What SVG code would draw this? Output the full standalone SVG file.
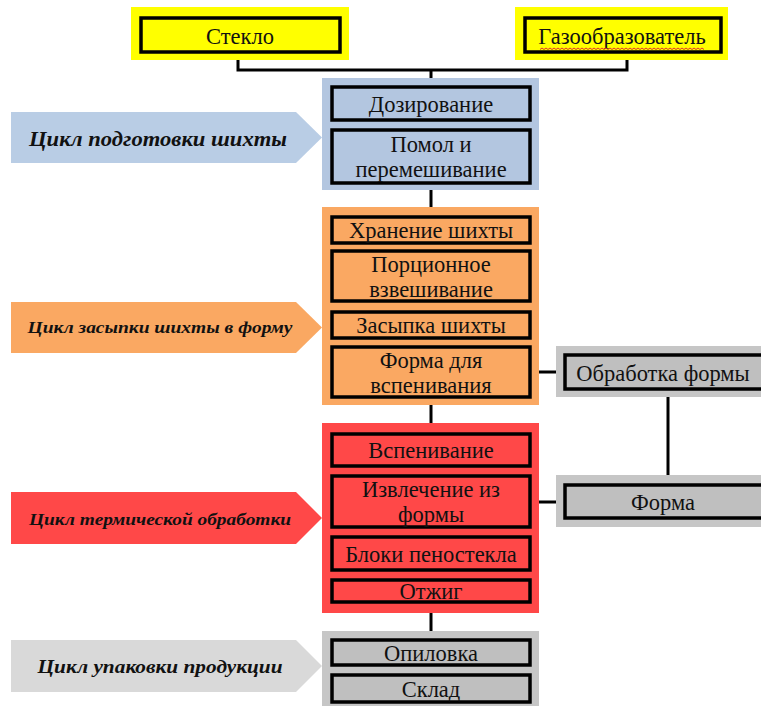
<svg xmlns="http://www.w3.org/2000/svg" width="761" height="706" viewBox="0 0 761 706">
<style>
.box{stroke:#000;stroke-width:3.5}
.t{font-family:"Liberation Serif","Times New Roman",serif;font-size:22.5px;fill:#111;text-anchor:middle}
.lbl{font-family:"Liberation Serif","Times New Roman",serif;font-weight:bold;font-style:italic;fill:#111;text-anchor:middle}
.con{stroke:#000;stroke-width:3;fill:none}
</style>
<rect width="761" height="706" fill="#fff"/>
<g id="connectors">
<path class="con" d="M238 52 V70 H627 V52"/>
<path class="con" d="M431 70 V87"/>
<path class="con" d="M431 183 V217"/>
<path class="con" d="M431 397 V434"/>
<path class="con" d="M431 602 V640"/>
<path class="con" d="M530 372 H565"/>
<path class="con" d="M530 502 H565"/>
<path class="con" d="M668 389 V485"/>
</g>
<g id="steklo">
<rect x="131" y="7" width="218" height="53" fill="#FFFF00"/>
<rect class="box" x="141" y="18" width="199" height="34" fill="#FFFF00"/>
<text class="t" x="240" y="44">Стекло</text>
</g>
<g id="gazo">
<rect x="515" y="7" width="213" height="53" fill="#FFFF00"/>
<rect class="box" x="525" y="18" width="196" height="34" fill="#FFFF00"/>
<text class="t" x="622" y="44">Газообразователь</text>
<path d="M540 49.5
l2 -1.5 l2 1.5 l2 -1.5 l2 1.5 l2 -1.5 l2 1.5 l2 -1.5 l2 1.5 l2 -1.5 l2 1.5
l2 -1.5 l2 1.5 l2 -1.5 l2 1.5 l2 -1.5 l2 1.5 l2 -1.5 l2 1.5 l2 -1.5 l2 1.5
l2 -1.5 l2 1.5 l2 -1.5 l2 1.5 l2 -1.5 l2 1.5 l2 -1.5 l2 1.5 l2 -1.5 l2 1.5
l2 -1.5 l2 1.5 l2 -1.5 l2 1.5 l2 -1.5 l2 1.5 l2 -1.5 l2 1.5 l2 -1.5 l2 1.5
l2 -1.5 l2 1.5 l2 -1.5 l2 1.5 l2 -1.5 l2 1.5 l2 -1.5 l2 1.5 l2 -1.5 l2 1.5
l2 -1.5 l2 1.5 l2 -1.5 l2 1.5 l2 -1.5 l2 1.5 l2 -1.5 l2 1.5 l2 -1.5 l2 1.5
l2 -1.5 l2 1.5 l2 -1.5 l2 1.5 l2 -1.5 l2 1.5 l2 -1.5 l2 1.5 l2 -1.5 l2 1.5
l2 -1.5 l2 1.5 l2 -1.5 l2 1.5 l2 -1.5 l2 1.5 l2 -1.5 l2 1.5 l2 -1.5 l2 1.5
l2 -1.5 l2 1.5" fill="none" stroke="#E03030" stroke-width="1"/>
</g>
<g id="cycle1">
<polygon points="11,112 296,112 322,137.5 296,163 11,163" fill="#B9CDE5"/>
<text class="lbl" x="158" y="146" font-size="20" textLength="258" lengthAdjust="spacingAndGlyphs">Цикл подготовки шихты</text>
</g>
<g id="panel1">
<rect x="322" y="78" width="217" height="112" fill="#B3C6E0"/>
<rect class="box" x="332" y="87" width="198" height="33" fill="#B3C6E0"/>
<text class="t" x="431" y="112">Дозирование</text>
<rect class="box" x="332" y="130" width="198" height="53" fill="#B3C6E0"/>
<text class="t" x="431" y="152">Помол и</text>
<text class="t" x="431" y="177">перемешивание</text>
</g>
<g id="cycle2">
<polygon points="11,302 296,302 322,327.5 296,353 11,353" fill="#FAA862"/>
<text class="lbl" x="160" y="333" font-size="16" textLength="265" lengthAdjust="spacingAndGlyphs">Цикл засыпки шихты в форму</text>
</g>
<g id="panel2">
<rect x="322" y="207" width="217" height="198" fill="#FAA862"/>
<rect class="box" x="332" y="217" width="198" height="26" fill="#FAA862"/>
<text class="t" x="431" y="238">Хранение шихты</text>
<rect class="box" x="332" y="251" width="198" height="50" fill="#FAA862"/>
<text class="t" x="431" y="272">Порционное</text>
<text class="t" x="431" y="297">взвешивание</text>
<rect class="box" x="332" y="312" width="198" height="26" fill="#FAA862"/>
<text class="t" x="431" y="333">Засыпка шихты</text>
<rect class="box" x="332" y="347" width="198" height="50" fill="#FAA862"/>
<text class="t" x="431" y="368">Форма для</text>
<text class="t" x="431" y="393">вспенивания</text>
</g>
<g id="obrabotka">
<rect x="556" y="346" width="215" height="51" fill="#C6C6C6"/>
<rect class="box" x="565" y="355" width="210" height="34" fill="#BFBFBF"/>
<text class="t" x="663" y="381">Обработка формы</text>
</g>
<g id="forma">
<rect x="556" y="475" width="215" height="52" fill="#C6C6C6"/>
<rect class="box" x="565" y="485" width="210" height="33" fill="#BFBFBF"/>
<text class="t" x="663" y="510">Форма</text>
</g>
<g id="cycle3">
<polygon points="11,492 296,492 322,518 296,544 11,544" fill="#FF4848"/>
<text class="lbl" x="160" y="525" font-size="16.5" textLength="262" lengthAdjust="spacingAndGlyphs">Цикл термической  обработки</text>
</g>
<g id="panel3">
<rect x="322" y="423" width="217" height="190" fill="#FF4848"/>
<rect class="box" x="332" y="434" width="198" height="32" fill="#FF4848"/>
<text class="t" x="431" y="458">Вспенивание</text>
<rect class="box" x="332" y="476" width="198" height="51" fill="#FF4848"/>
<text class="t" x="431" y="497">Извлечение из</text>
<text class="t" x="431" y="522">формы</text>
<rect class="box" x="332" y="537" width="198" height="33" fill="#FF4848"/>
<text class="t" x="431" y="562">Блоки пеностекла</text>
<rect class="box" x="332" y="580" width="198" height="22" fill="#FF4848"/>
<text class="t" x="431" y="599">Отжиг</text>
</g>
<g id="cycle4">
<polygon points="11,640 296,640 322,666 296,692 11,692" fill="#D9D9D9"/>
<text class="lbl" x="160" y="673" font-size="19.5" textLength="245" lengthAdjust="spacingAndGlyphs">Цикл упаковки продукции</text>
</g>
<g id="panel4">
<rect x="322" y="631" width="217" height="80" fill="#C6C6C6"/>
<rect class="box" x="332" y="640" width="198" height="25" fill="#BFBFBF"/>
<text class="t" x="431" y="661">Опиловка</text>
<rect class="box" x="332" y="675" width="198" height="27" fill="#BFBFBF"/>
<text class="t" x="431" y="697">Склад</text>
</g>
</svg>
